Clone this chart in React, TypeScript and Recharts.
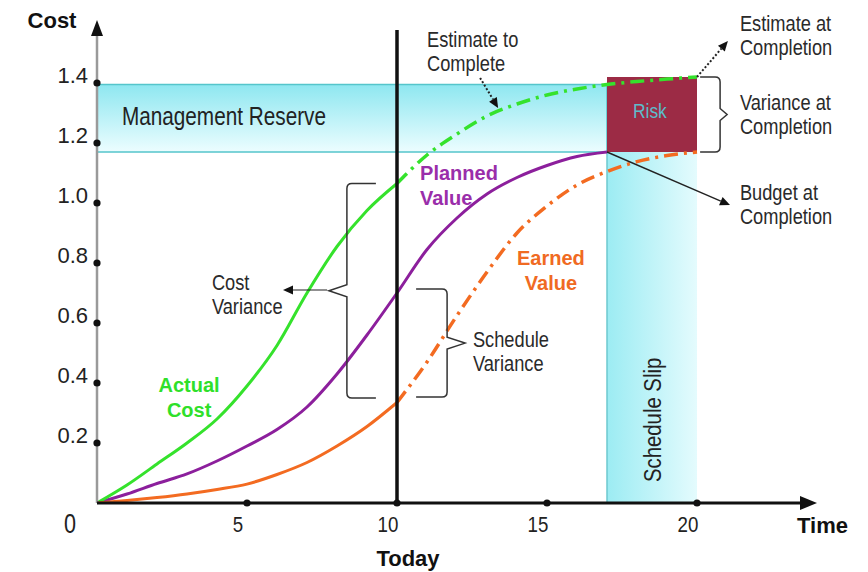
import React from 'react';
import {
  ComposedChart,
  Line,
  XAxis,
  YAxis,
  ReferenceArea,
  ReferenceLine,
  ReferenceDot,
} from 'recharts';

// ---------- data ----------
const pvTime = [0, 1, 2, 3, 4, 5, 6, 7, 8, 9, 10, 11, 12, 13, 14, 15, 16, 17];
const plannedValue = [0, 0.03, 0.065, 0.097, 0.14, 0.19, 0.245, 0.32, 0.43, 0.56, 0.7, 0.845, 0.95, 1.03, 1.085, 1.125, 1.155, 1.17];

const acTime = [0, 1, 2, 3, 4, 5, 6, 7, 8, 9, 10];
const actualCost = [0, 0.06, 0.13, 0.2, 0.28, 0.39, 0.525, 0.7, 0.855, 0.975, 1.065];

const etcTime = [10, 11, 12, 13, 14, 15, 16, 17, 18, 19, 20];
const estimateToComplete = [1.065, 1.16, 1.23, 1.29, 1.33, 1.36, 1.38, 1.395, 1.405, 1.413, 1.42];

const evTime = [0, 1, 2, 3, 4, 5, 6, 7, 8, 9, 10];
const earnedValue = [0, 0.008, 0.018, 0.03, 0.045, 0.063, 0.095, 0.135, 0.19, 0.255, 0.335];

const evfTime = [10, 11, 12, 13, 14, 15, 16, 17, 18, 19, 20];
const earnedForecast = [0.335, 0.47, 0.625, 0.77, 0.9, 0.99, 1.06, 1.105, 1.138, 1.158, 1.17];

const xTicks = [0, 5, 10, 15, 20];
const xTickLabels = ['0', '5', '10', '15', '20'];
const yTicks = [0.2, 0.4, 0.6, 0.8, 1.0, 1.2, 1.4];
const yTickLabels = ['0.2', '0.4', '0.6', '0.8', '1.0', '1.2', '1.4'];

const xMax = 24;
const yMax = 1.61;
const today = 10;
const plannedEnd = 17;
const forecastEnd = 20;
const budgetAtCompletion = 1.17;
const estimateAtCompletion = 1.42;
const reserveTop = 1.395;
const todayTop = 1.577;

// annotation anchors (data units)
const notes = [
  { lines: ['Estimate to', 'Complete'], x: 11.0, y: 1.52 },
  { lines: ['Estimate at', 'Completion'], x: 21.43, y: 1.573 },
  { lines: ['Variance at', 'Completion'], x: 21.43, y: 1.31 },
  { lines: ['Budget at', 'Completion'], x: 21.43, y: 1.01 },
  { lines: ['Cost', 'Variance'], x: 3.83, y: 0.71 },
  { lines: ['Schedule', 'Variance'], x: 12.53, y: 0.52 },
];

const seriesLabels = [
  { lines: ['Planned', 'Value'], x: 10.77, y: 1.077, color: '#9a2eaa', anchor: 'start' },
  { lines: ['Earned', 'Value'], x: 15.13, y: 0.793, color: '#f06a22', anchor: 'middle' },
  { lines: ['Actual', 'Cost'], x: 3.07, y: 0.37, color: '#2fe02a', anchor: 'middle' },
];

const arrows = [
  { from: { x: 12.77, y: 1.417 }, to: { x: 13.37, y: 1.317 }, dash: '2 2', w: 2 },
  { from: { x: 20, y: 1.42 }, to: { x: 21.03, y: 1.54 }, dash: '2 2', w: 2 },
  { from: { x: 17, y: 1.17 }, to: { x: 21.1, y: 0.993 }, dash: undefined, w: 1.4 },
  { from: { x: 7.67, y: 0.71 }, to: { x: 6.2, y: 0.71 }, dash: undefined, w: 1.2 },
];

const braces = [
  { x: 8.33, y1: 0.35, y2: 1.065, side: 'left', hook: 29, point: 18 },
  { x: 11.67, y1: 0.353, y2: 0.713, side: 'right', hook: 31, point: 18 },
  { x: 20.77, y1: 1.17, y2: 1.42, side: 'right', hook: 20, point: 7 },
];

// ---------- styling ----------
const SANS = "'Liberation Sans', Arial, sans-serif";
const NARROW_X = 0.83;
const GREEN = '#35e22c';
const PURPLE = '#8c1f9c';
const ORANGE = '#f36b21';

const toRows = (t: number[], v: number[]) => t.map((x, i) => ({ t: x, v: v[i] }));

const makeArrow = (color: string, width: number, dash: string | undefined, head: number, headW: number) => (p: any) => {
  const { x1, y1, x2, y2 } = p;
  const dx = x2 - x1;
  const dy = y2 - y1;
  const len = Math.hypot(dx, dy) || 1;
  const ux = dx / len;
  const uy = dy / len;
  const bx = x2 - ux * head;
  const by = y2 - uy * head;
  const px = -uy;
  const py = ux;
  return (
    <g>
      <line x1={x1} y1={y1} x2={bx} y2={by} stroke={color} strokeWidth={width} strokeDasharray={dash} />
      <polygon
        points={`${x2},${y2} ${bx + px * headW},${by + py * headW} ${bx - px * headW},${by - py * headW}`}
        fill="#111"
      />
    </g>
  );
};

const makeBrace = (side: string, hook: number, point: number) => (p: any) => {
  const x = p.x1;
  const top = Math.min(p.y1, p.y2);
  const bot = Math.max(p.y1, p.y2);
  const mid = (top + bot) / 2;
  const s = side === 'left' ? 1 : -1; // hooks go to +s, point goes to -s
  const d = `M ${x + s * hook} ${top} L ${x + s * 5} ${top} Q ${x} ${top} ${x} ${top + 5} L ${x} ${mid - 6} L ${x - s * point} ${mid} L ${x} ${mid + 6} L ${x} ${bot - 5} Q ${x} ${bot} ${x + s * 5} ${bot} L ${x + s * hook} ${bot}`;
  return <path d={d} fill="none" stroke="#333" strokeWidth={1.5} />;
};

const makeText = (lines: string[], opts: any) => (p: any) => {
  const X = p.cx + (opts.dx || 0);
  const Y = p.cy + (opts.dy || 0);
  const sx = opts.sx || 1;
  const tf = `translate(${X} ${Y})${opts.rotate ? ` rotate(${opts.rotate})` : ''} scale(${sx} 1)`;
  return (
    <g transform={tf}>
      <text
        x={0}
        y={0}
        textAnchor={opts.anchor || 'start'}
        fontFamily={SANS}
        fontSize={opts.size}
        fontWeight={opts.weight || 'normal'}
        fill={opts.color}
      >
        {lines.map((l, i) => (
          <tspan key={i} x={0} dy={i === 0 ? 0 : opts.lh}>
            {l}
          </tspan>
        ))}
      </text>
    </g>
  );
};

const XTick = (props: any) => {
  const { x, y, payload } = props;
  const label = xTickLabels[xTicks.indexOf(payload.value)] ?? String(payload.value);
  if (payload.value === 0) {
    return (
      <g transform={`translate(${x - 27} ${y + 30}) scale(0.8 1)`}>
        <text x={0} y={0} textAnchor="middle" fontFamily={SANS} fontSize={27} fill="#222">
          {label}
        </text>
      </g>
    );
  }
  return (
    <g>
      <circle cx={x} cy={y} r={3.6} fill="#111" />
      <g transform={`translate(${x - 9} ${y + 29}) scale(0.85 1)`}>
        <text x={0} y={0} textAnchor="middle" fontFamily={SANS} fontSize={22} fill="#222">
          {label}
        </text>
      </g>
    </g>
  );
};

const YTick = (props: any) => {
  const { x, y, payload } = props;
  const label = yTickLabels[yTicks.findIndex((v) => Math.abs(v - payload.value) < 1e-6)] ?? String(payload.value);
  return (
    <g>
      <circle cx={x} cy={y} r={3.6} fill="#111" />
      <text x={x - 9} y={y} textAnchor="end" fontFamily={SANS} fontSize={22} fill="#222">
        {label}
      </text>
    </g>
  );
};

export default function App() {
  return (
    <div style={{ position: 'absolute', left: 0, top: 0, width: 868, height: 572, background: '#fff' }}>
      <ComposedChart width={868} height={572} margin={{ top: 20, right: 51, bottom: 0, left: 0 }}>
        <defs>
          <linearGradient id="reserveGrad" x1="0" y1="0" x2="0" y2="1">
            <stop offset="0%" stopColor="#8ee7f0" />
            <stop offset="100%" stopColor="#ecfdff" />
          </linearGradient>
          <linearGradient id="slipGrad" x1="0" y1="0" x2="1" y2="0">
            <stop offset="0%" stopColor="#9cecf3" />
            <stop offset="100%" stopColor="#e4fbfd" />
          </linearGradient>
        </defs>
        <XAxis
          dataKey="t"
          type="number"
          domain={[0, xMax]}
          ticks={xTicks}
          axisLine={false}
          tickLine={false}
          tickSize={0}
          tickMargin={0}
          height={69}
          allowDataOverflow
          tick={<XTick />}
          interval={0}
        />
        <YAxis
          type="number"
          domain={[0, yMax]}
          ticks={yTicks}
          axisLine={false}
          tickLine={false}
          tickSize={0}
          tickMargin={0}
          width={97}
          allowDataOverflow
          tick={<YTick />}
          interval={0}
        />

        <ReferenceArea
          x1={0}
          x2={plannedEnd}
          y1={budgetAtCompletion}
          y2={reserveTop}
          fill="url(#reserveGrad)"
          fillOpacity={1}
          stroke="#55c5cb"
          strokeWidth={1.5}
          ifOverflow="visible"
        />
        <ReferenceArea
          x1={plannedEnd}
          x2={forecastEnd}
          y1={0}
          y2={budgetAtCompletion}
          fill="url(#slipGrad)"
          fillOpacity={1}
          stroke="none"
          ifOverflow="visible"
        />
        <ReferenceLine
          segment={[{ x: plannedEnd, y: 0 }, { x: plannedEnd, y: budgetAtCompletion }]}
          stroke="#6cc9cf"
          strokeWidth={1.5}
          ifOverflow="visible"
        />
        <ReferenceArea
          x1={plannedEnd}
          x2={forecastEnd}
          y1={budgetAtCompletion}
          y2={estimateAtCompletion}
          fill="#9c2b45"
          fillOpacity={1}
          stroke="none"
          ifOverflow="visible"
        />

        <Line data={toRows(pvTime, plannedValue)} dataKey="v" type="monotone" stroke={PURPLE} strokeWidth={3} dot={false} isAnimationActive={false} />
        <Line data={toRows(acTime, actualCost)} dataKey="v" type="monotone" stroke={GREEN} strokeWidth={3} dot={false} isAnimationActive={false} />
        <Line data={toRows(etcTime, estimateToComplete)} dataKey="v" type="monotone" stroke={GREEN} strokeWidth={3.5} strokeDasharray="14 6 3 6" dot={false} isAnimationActive={false} />
        <Line data={toRows(evTime, earnedValue)} dataKey="v" type="monotone" stroke={ORANGE} strokeWidth={3} dot={false} isAnimationActive={false} />
        <Line data={toRows(evfTime, earnedForecast)} dataKey="v" type="monotone" stroke={ORANGE} strokeWidth={3.5} strokeDasharray="14 6 3 6" dot={false} isAnimationActive={false} />

        {/* today line */}
        <ReferenceLine
          segment={[{ x: today, y: 0 }, { x: today, y: todayTop }]}
          stroke="#111"
          strokeWidth={3.5}
          ifOverflow="visible"
        />

        {/* axes with arrows */}
        <ReferenceLine
          segment={[{ x: 0, y: 0 }, { x: 0, y: yMax }]}
          ifOverflow="visible"
          shape={(p: any) => (
            <g>
              <line x1={p.x1} y1={p.y1} x2={p.x2} y2={p.y2 + 12} stroke="#9a9a9a" strokeWidth={2.5} />
              <polygon points={`${p.x2},${p.y2} ${p.x2 - 6},${p.y2 + 16} ${p.x2 + 6},${p.y2 + 16}`} fill="#111" />
            </g>
          )}
        />
        <ReferenceLine
          segment={[{ x: 0, y: 0 }, { x: xMax, y: 0 }]}
          ifOverflow="visible"
          shape={makeArrow('#111', 3, undefined, 17, 7)}
        />

        {arrows.map((a, i) => (
          <ReferenceLine
            key={`ar${i}`}
            segment={[a.from, a.to]}
            ifOverflow="visible"
            shape={makeArrow('#222', a.w, a.dash, 10, 4.5)}
          />
        ))}

        {braces.map((b, i) => (
          <ReferenceLine
            key={`br${i}`}
            segment={[{ x: b.x, y: b.y1 }, { x: b.x, y: b.y2 }]}
            ifOverflow="visible"
            shape={makeBrace(b.side, b.hook, b.point)}
          />
        ))}

        {notes.map((n, i) => (
          <ReferenceDot
            key={`n${i}`}
            x={n.x}
            y={n.y}
            ifOverflow="visible"
            shape={makeText(n.lines, { size: 22, sx: NARROW_X, color: '#2a2a2a', lh: 24 })}
          />
        ))}

        {seriesLabels.map((s, i) => (
          <ReferenceDot
            key={`s${i}`}
            x={s.x}
            y={s.y}
            ifOverflow="visible"
            shape={makeText(s.lines, { size: 20, weight: 'bold', color: s.color, lh: 25, anchor: s.anchor })}
          />
        ))}

        <ReferenceDot
          x={0.83}
          y={1.26}
          ifOverflow="visible"
          shape={makeText(['Management Reserve'], { size: 25, sx: NARROW_X, color: '#222' })}
        />
        <ReferenceDot
          x={18.43}
          y={1.283}
          ifOverflow="visible"
          shape={makeText(['Risk'], { size: 21, sx: NARROW_X, color: '#5cbccb', anchor: 'middle' })}
        />
        <ReferenceDot
          x={18.5}
          y={0.277}
          ifOverflow="visible"
          shape={makeText(['Schedule Slip'], { size: 24.5, sx: NARROW_X, color: '#222', anchor: 'middle', rotate: -90, dx: 9 })}
        />

        {/* axis titles */}
        <ReferenceDot
          x={0}
          y={yMax}
          ifOverflow="visible"
          shape={makeText(['Cost'], { size: 22, weight: 'bold', color: '#111', anchor: 'middle', dx: -45, dy: 8 })}
        />
        <ReferenceDot
          x={xMax}
          y={0}
          ifOverflow="visible"
          shape={makeText(['Time'], { size: 22, weight: 'bold', color: '#111', anchor: 'start', dx: -20, dy: 30 })}
        />
        <ReferenceDot
          x={today}
          y={0}
          ifOverflow="visible"
          shape={makeText(['Today'], { size: 22, weight: 'bold', color: '#111', anchor: 'middle', dx: 11, dy: 63 })}
        />
      </ComposedChart>
    </div>
  );
}
